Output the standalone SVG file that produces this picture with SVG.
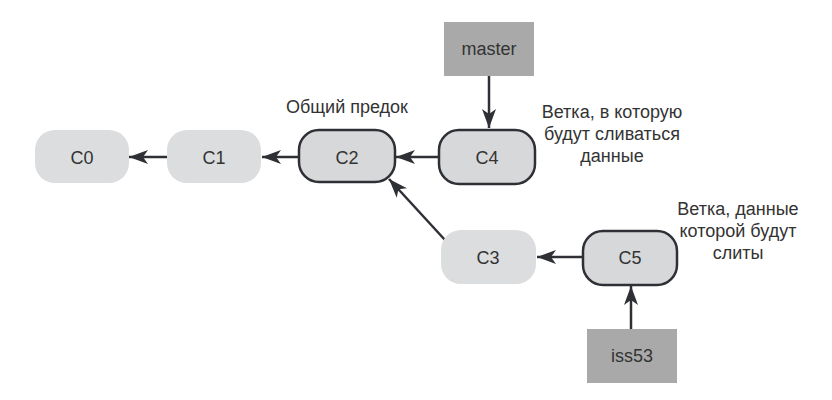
<svg xmlns="http://www.w3.org/2000/svg" width="832" height="400" viewBox="0 0 832 400">
<defs>
<style>
text{font-family:"Liberation Sans",Arial,sans-serif;fill:#333333;}
.lbl{font-size:18px;text-anchor:middle;}
.note{font-size:18px;text-anchor:middle;}
.soft{fill:#dcdddf;}
.hard{fill:#d7d8da;stroke:#2e3035;stroke-width:2.5;}
.branch{fill:#a9a9a9;}
.conn{stroke:#2e3035;stroke-width:2.5;fill:none;marker-end:url(#ah);}
</style>
<marker id="ah" markerWidth="20" markerHeight="16" viewBox="0 0 20 16" refX="19" refY="8" orient="auto" markerUnits="userSpaceOnUse">
<path d="M0,1 L19,8 L0,15 L5,8 Z" fill="#2e3035"/>
</marker>
</defs>
<rect width="832" height="400" fill="#ffffff"/>
<g id="connectors">
<line class="conn" x1="167" y1="157" x2="129" y2="157"/>
<line class="conn" x1="298" y1="157" x2="262" y2="157"/>
<line class="conn" x1="438" y1="157" x2="396" y2="157"/>
<line class="conn" x1="445" y1="240" x2="389" y2="179"/>
<line class="conn" x1="582" y1="257" x2="537" y2="257"/>
<line class="conn" x1="489" y1="76" x2="489" y2="128"/>
<line class="conn" x1="631" y1="329" x2="631" y2="286"/>
</g>
<g id="C0"><rect class="soft" x="35" y="130" width="94" height="53" rx="20"/><text class="lbl" x="82" y="163.5">C0</text></g>
<g id="C1"><rect class="soft" x="167" y="130" width="94" height="53" rx="20"/><text class="lbl" x="214" y="163.5">C1</text></g>
<g id="C2"><rect class="hard" x="299" y="130" width="96" height="52" rx="20"/><text class="lbl" x="347" y="163.5">C2</text></g>
<g id="C4"><rect class="hard" x="439" y="130" width="96" height="54" rx="20"/><text class="lbl" x="487" y="163.5">C4</text></g>
<g id="C3"><rect class="soft" x="441" y="230" width="95" height="54" rx="20"/><text class="lbl" x="488" y="263.5">C3</text></g>
<g id="C5"><rect class="hard" x="583" y="231" width="94" height="54" rx="20"/><text class="lbl" x="630" y="264">C5</text></g>
<g id="master"><rect class="branch" x="444" y="22" width="90" height="54"/><text class="lbl" x="489" y="55">master</text></g>
<g id="iss53"><rect class="branch" x="587" y="329" width="90" height="54"/><text class="lbl" x="632" y="362">iss53</text></g>
<g id="notes">
<text class="note" x="347" y="113">Общий предок</text>
<text class="note" x="612" y="118">Ветка, в которую</text>
<text class="note" x="612" y="140">будут сливаться</text>
<text class="note" x="612" y="162">данные</text>
<text class="note" x="738" y="215">Ветка, данные</text>
<text class="note" x="738" y="237">которой будут</text>
<text class="note" x="738" y="259">слиты</text>
</g>
</svg>
